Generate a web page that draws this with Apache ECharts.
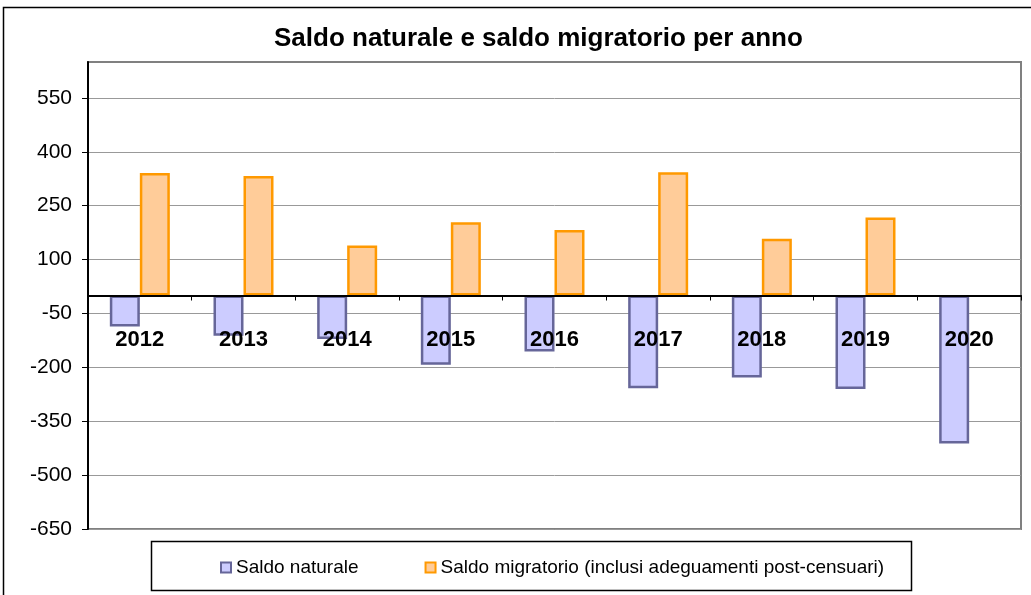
<!DOCTYPE html>
<html>
<head>
<meta charset="utf-8">
<script src="https://cdn.jsdelivr.net/npm/echarts@6/dist/echarts.min.js"></script>
<style>
html,body{margin:0;padding:0;background:#fff;}
#chart{width:1031px;height:595px;}
</style>
</head>
<body>
<div id="chart"></div>
<script>
var categories = ['2012','2013','2014','2015','2016','2017','2018','2019','2020'];
var saldoNaturale = [-86,-112,-121,-193,-156,-258,-228,-260,-412];
var saldoMigratorio = [341,333,139,204,182,343,158,217,null];
var yTicks = [-650,-500,-350,-200,-50,100,250,400,550];
var seriesNames = ['Saldo naturale','Saldo migratorio (inclusi adeguamenti post-censuari)'];
var titleText = 'Saldo naturale e saldo migratorio per anno';

var FONT = '"Liberation Sans", Arial, sans-serif';
var chart = echarts.init(document.getElementById('chart'), null, {renderer:'canvas'});
chart.setOption({
  animation:false,
  backgroundColor:'#ffffff',
  textStyle:{fontFamily:FONT},
  title:{
    text:titleText,
    left:274, top:26, padding:0,
    textStyle:{fontFamily:FONT,fontSize:26,fontWeight:'bold',color:'#000'}
  },
  graphic:[
    {type:'rect',silent:true,z:-10,shape:{x:3.5,y:7.5,width:1200,height:800},style:{fill:'none',stroke:'#000',lineWidth:1.5}},
    {type:'rect',silent:true,z:-10,shape:{x:151.5,y:541.5,width:760,height:49},style:{fill:'#fff',stroke:'#000',lineWidth:1.5}}
  ],
  legend:{
    left:220, top:558, padding:0,
    icon:'rect',
    itemWidth:10, itemHeight:10, itemGap:66,
    textStyle:{fontFamily:FONT,fontSize:19,color:'#000'},
    data:seriesNames
  },
  grid:{
    left:88, right:10, top:62, bottom:66,
    show:true, borderColor:'#808080', borderWidth:2, backgroundColor:'#fff'
  },
  xAxis:{
    type:'category',
    data:categories,
    z:10,
    axisLine:{onZero:true,lineStyle:{color:'#000',width:2}},
    axisTick:{show:true,length:5,lineStyle:{color:'#000',width:1}},
    axisLabel:{margin:-200,fontFamily:FONT,fontSize:22,fontWeight:'bold',color:'#000'},
    splitLine:{show:false}
  },
  yAxis:{
    type:'value',
    min:-650, max:650,
    axisLine:{show:true,lineStyle:{color:'#000',width:2}},
    axisTick:{show:true,length:6,customValues:yTicks,lineStyle:{color:'#000',width:1}},
    axisLabel:{customValues:yTicks,margin:16,fontFamily:FONT,fontSize:21,color:'#000'},
    splitLine:{show:true,lineStyle:{color:'#999',width:1}}
  },
  series:[
    {
      name:seriesNames[0], type:'bar', data:saldoNaturale,
      barWidth:30, barGap:'0%',
      itemStyle:{color:'#CCCCFF',borderColor:'#666699',borderWidth:2.5}
    },
    {
      name:seriesNames[1], type:'bar', data:saldoMigratorio,
      barWidth:30, barGap:'0%',
      itemStyle:{color:'#FFCC99',borderColor:'#FF9900',borderWidth:2.5}
    }
  ]
});
</script>
</body>
</html>
